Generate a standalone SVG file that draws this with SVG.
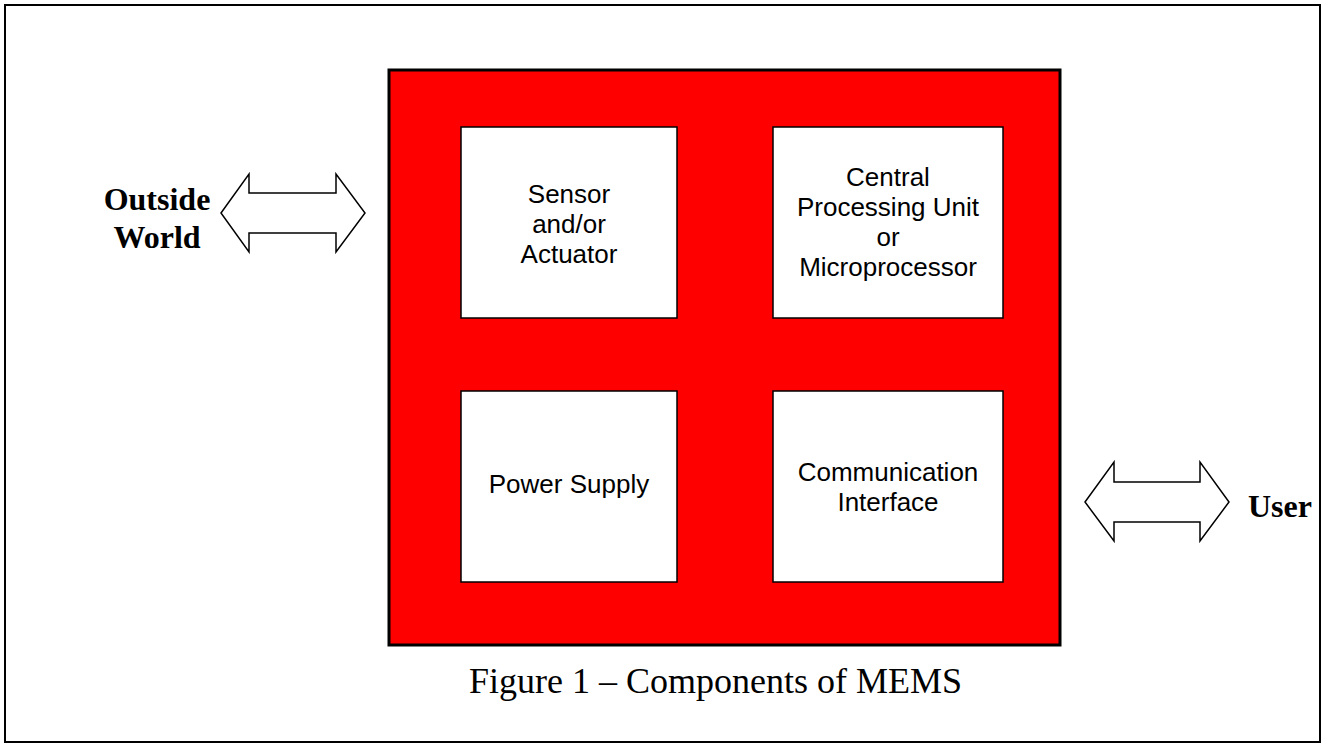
<svg xmlns="http://www.w3.org/2000/svg" width="1325" height="747" viewBox="0 0 1325 747">
<style>
.frame{fill:#fff;stroke:#000;stroke-width:2}
.chip{fill:#ff0000;stroke:#000;stroke-width:3}
.box{fill:#fff;stroke:#000;stroke-width:1.5}
.lbl{font-family:"Liberation Sans",Arial,sans-serif;font-size:26px;fill:#000;text-anchor:middle}
.bold{font-family:"Liberation Serif","Times New Roman",serif;font-size:32px;font-weight:bold;fill:#000}
.cap{font-family:"Liberation Serif","Times New Roman",serif;font-size:36px;fill:#000}
.arrow{fill:#fff;stroke:#000;stroke-width:1.5;stroke-linejoin:miter}
</style>
<rect class="frame" x="5" y="5" width="1315" height="737"/>
<g id="mems">
<rect class="chip" x="389" y="70" width="671" height="575"/>
</g>
<g id="sensor">
<rect class="box" x="461" y="127" width="216" height="191"/>
<text class="lbl" x="569" y="203">Sensor</text>
<text class="lbl" x="569" y="233">and/or</text>
<text class="lbl" x="569" y="263">Actuator</text>
</g>
<g id="cpu">
<rect class="box" x="773" y="127" width="230" height="191"/>
<text class="lbl" x="888" y="186">Central</text>
<text class="lbl" x="888" y="216">Processing Unit</text>
<text class="lbl" x="888" y="246">or</text>
<text class="lbl" x="888" y="276">Microprocessor</text>
</g>
<g id="power">
<rect class="box" x="461" y="391" width="216" height="191"/>
<text class="lbl" x="569" y="493">Power Supply</text>
</g>
<g id="comm">
<rect class="box" x="773" y="391" width="230" height="191"/>
<text class="lbl" x="888" y="481">Communication</text>
<text class="lbl" x="888" y="511">Interface</text>
</g>
<g id="outside">
<text class="bold" x="157" y="210" text-anchor="middle">Outside</text>
<text class="bold" x="157" y="248" text-anchor="middle">World</text>
</g>
<g id="user">
<text class="bold" x="1248" y="517">User</text>
</g>
<g id="connectors">
<polygon class="arrow" points="221,213 249,174 249,193 336,193 336,174 365,213 336,252 336,233 249,233 249,252"/>
<polygon class="arrow" points="1085,502 1114,462 1114,482 1200,482 1200,462 1229,502 1200,541 1200,522 1114,522 1114,541"/>
</g>
<text class="cap" x="469" y="693">Figure 1 – Components of MEMS</text>
</svg>
